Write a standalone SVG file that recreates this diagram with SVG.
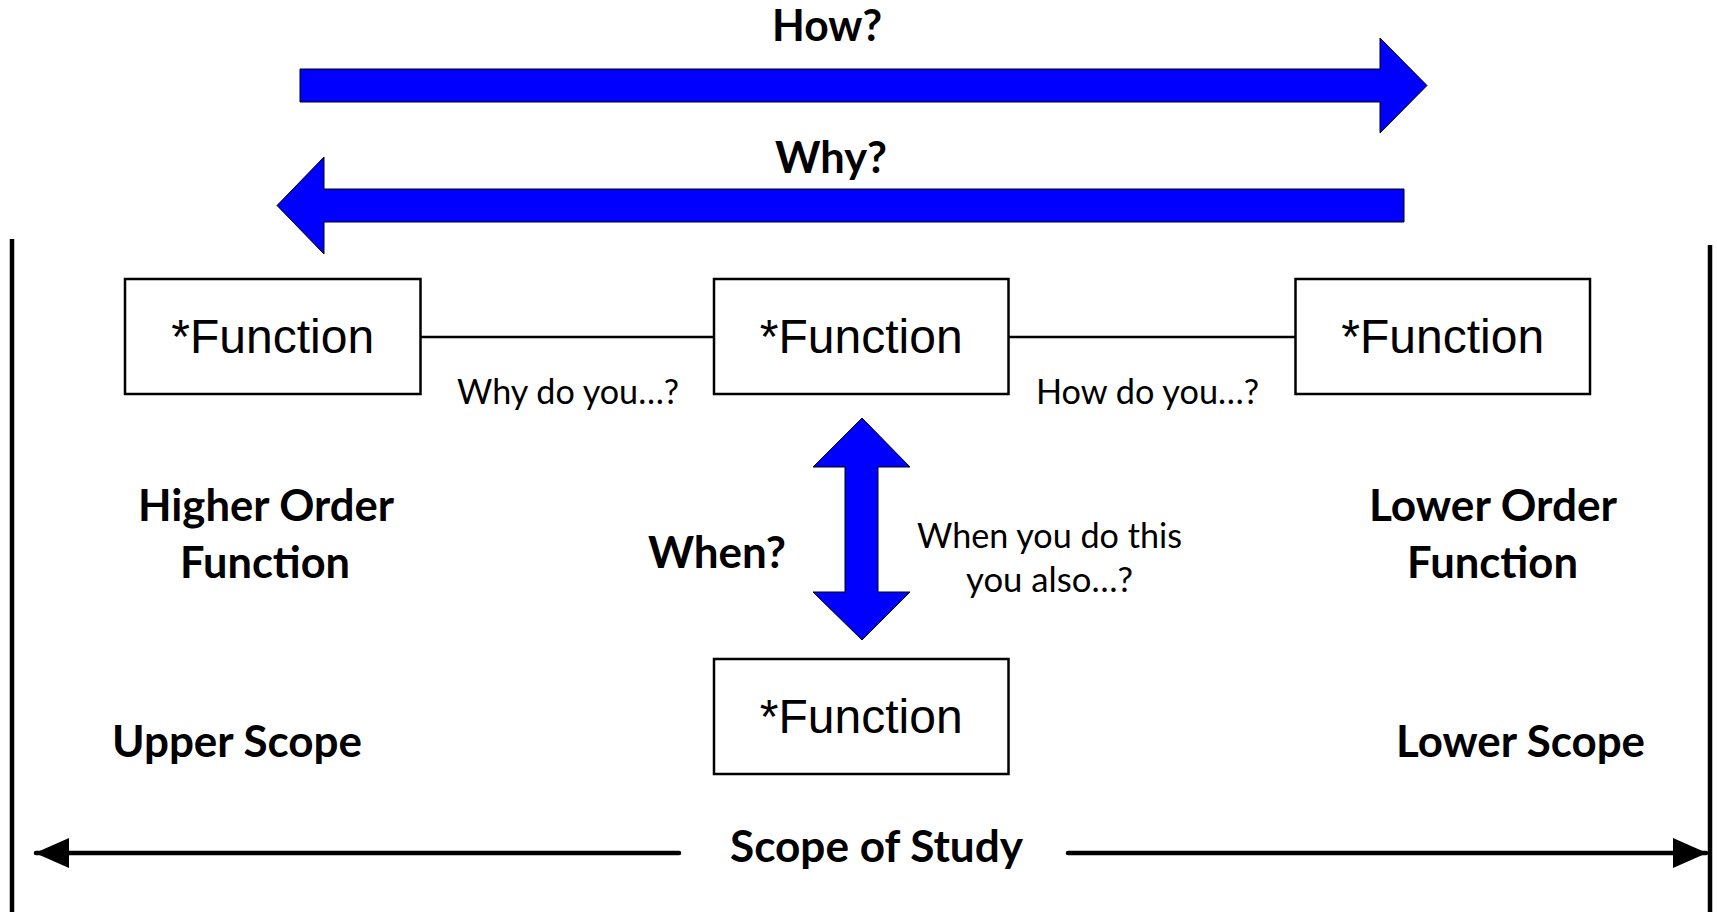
<svg xmlns="http://www.w3.org/2000/svg" width="1717" height="912" viewBox="0 0 1717 912">
<style>
.box{fill:#fff;stroke:#000;stroke-width:2.5}
.fn{font-family:"Liberation Sans",Arial,sans-serif;font-size:48px;fill:#000;text-anchor:middle}
.b{font-family:Lato,"Open Sans",sans-serif;font-weight:bold;font-size:43px;fill:#000}
.r{font-family:Lato,"Open Sans",sans-serif;font-size:34px;fill:#000}
.blue{fill:#0000ff;stroke:#000;stroke-width:1}
.conn{stroke:#000;stroke-width:2.5;fill:none}
.scope{stroke:#000;stroke-width:4.5;fill:none;stroke-linecap:round}
.wall{stroke:#000;stroke-width:4.5}
</style>
<defs>
<marker id="ah" markerUnits="userSpaceOnUse" markerWidth="34" markerHeight="30" refX="33" refY="15" orient="auto">
<path d="M0,0 L34,15 L0,30 Z" fill="#000"/>
</marker>
</defs>
<rect width="1717" height="912" fill="#fff"/>

<g id="walls">
<line class="wall" x1="12" y1="239" x2="12" y2="912"/>
<line class="wall" x1="1710" y1="245" x2="1710" y2="912"/>
</g>

<g id="how-arrow">
<polygon class="blue" points="300,69 1380,69 1380,38 1427,85.5 1380,133 1380,102 300,102"/>
<text class="b" x="772" y="41" textLength="110" lengthAdjust="spacingAndGlyphs">How?</text>
</g>
<g id="why-arrow">
<polygon class="blue" points="1404,189 324,189 324,157 277,205.5 324,254 324,222 1404,222"/>
<text class="b" x="775" y="173" textLength="112" lengthAdjust="spacingAndGlyphs">Why?</text>
</g>

<g id="connectors">
<line class="conn" x1="420.5" y1="337" x2="714" y2="337"/>
<line class="conn" x1="1008.5" y1="337" x2="1295.5" y2="337"/>
<polygon class="blue" points="862,418 910,467 878,467 878,592 910,592 862,640 813,592 845,592 845,467 813,467"/>
<line class="scope" x1="679" y1="853" x2="36" y2="853" marker-end="url(#ah)"/>
<line class="scope" x1="1068" y1="853" x2="1706" y2="853" marker-end="url(#ah)"/>
</g>

<g id="node-higher">
<rect class="box" x="125" y="279" width="295.5" height="115"/>
<text class="fn" x="272.7" y="353">*Function</text>
</g>
<g id="node-center">
<rect class="box" x="714" y="279" width="294.5" height="115"/>
<text class="fn" x="861.2" y="353">*Function</text>
</g>
<g id="node-lower">
<rect class="box" x="1295.5" y="279" width="294.5" height="115"/>
<text class="fn" x="1442.7" y="353">*Function</text>
</g>
<g id="node-when">
<rect class="box" x="714" y="659" width="294.5" height="115"/>
<text class="fn" x="861.2" y="733">*Function</text>
</g>

<g id="labels">
<text class="r" x="457" y="404" textLength="222" lengthAdjust="spacingAndGlyphs">Why do you…?</text>
<text class="r" x="1036" y="404" textLength="223" lengthAdjust="spacingAndGlyphs">How do you…?</text>
<text class="b" x="138" y="521" textLength="256" lengthAdjust="spacingAndGlyphs">Higher Order</text>
<text class="b" x="180" y="578" textLength="170" lengthAdjust="spacingAndGlyphs">Function</text>
<text class="b" x="648" y="568" textLength="138" lengthAdjust="spacingAndGlyphs">When?</text>
<text class="r" x="917" y="548" textLength="265" lengthAdjust="spacingAndGlyphs">When you do this</text>
<text class="r" x="966" y="592" textLength="167" lengthAdjust="spacingAndGlyphs">you also…?</text>
<text class="b" x="1369" y="521" textLength="248" lengthAdjust="spacingAndGlyphs">Lower Order</text>
<text class="b" x="1407" y="578" textLength="171" lengthAdjust="spacingAndGlyphs">Function</text>
<text class="b" x="112" y="757" textLength="250" lengthAdjust="spacingAndGlyphs">Upper Scope</text>
<text class="b" x="1396" y="757" textLength="249" lengthAdjust="spacingAndGlyphs">Lower Scope</text>
<text class="b" x="730" y="862" textLength="293" lengthAdjust="spacingAndGlyphs">Scope of Study</text>
</g>
</svg>
